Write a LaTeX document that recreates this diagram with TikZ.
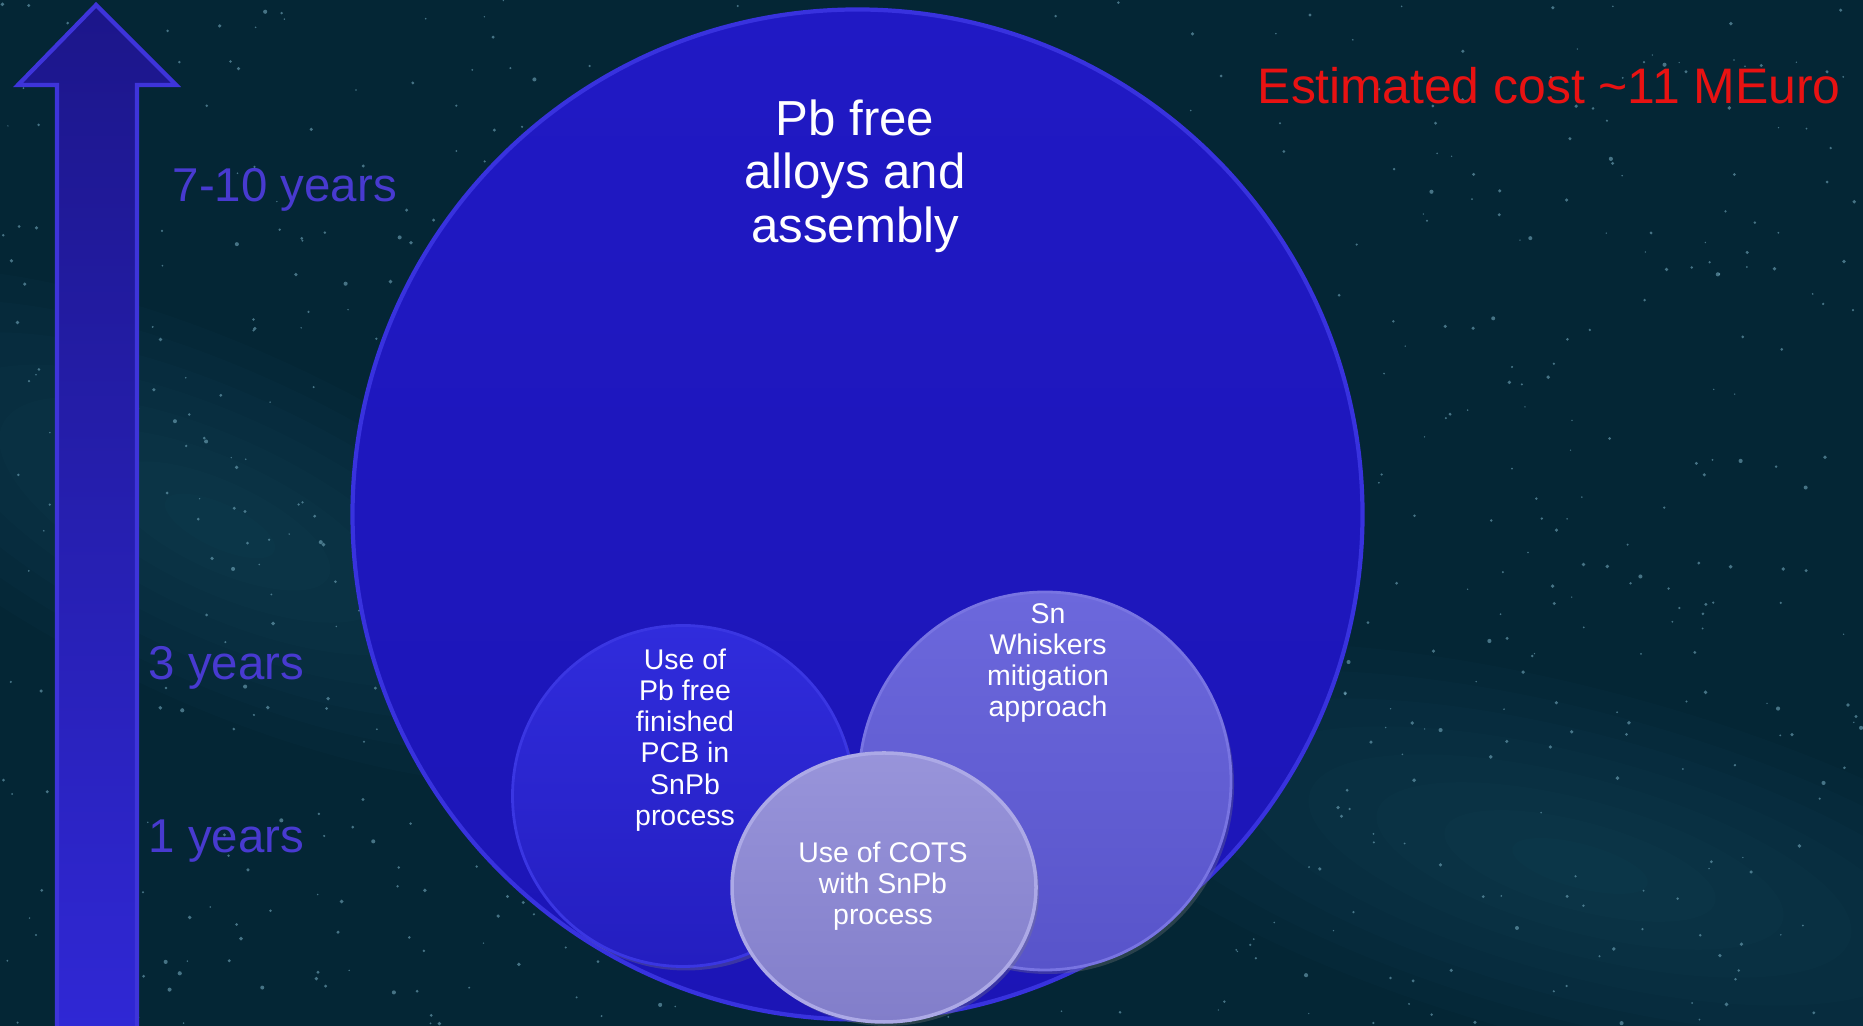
\documentclass[tikz,border=0pt]{standalone}
\usepackage{fontspec}
\setmainfont{Liberation Sans}
\usetikzlibrary{shapes,arrows,positioning,shadows}
\definecolor{skybg}{RGB}{4,38,53}
\definecolor{haze}{RGB}{30,96,118}
\definecolor{stardot}{RGB}{125,180,200}
\definecolor{yearblue}{RGB}{72,58,208}
\definecolor{costred}{RGB}{232,18,18}
\definecolor{arrowtop}{RGB}{28,22,138}
\definecolor{arrowbot}{RGB}{48,40,214}
\definecolor{arrowrim}{RGB}{62,52,218}

\begin{document}
\begin{tikzpicture}[bigstyle/.style={circle,draw={rgb,255:red,56;green,50;blue,222},line width=1.2pt,top color={rgb,255:red,32;green,25;blue,196},bottom color={rgb,255:red,28;green,21;blue,182},minimum size=10.1cm,inner sep=0},
leftstyle/.style={circle,draw={rgb,255:red,58;green,54;blue,226},line width=0.8pt,top color={rgb,255:red,48;green,44;blue,220},bottom color={rgb,255:red,36;green,30;blue,192},minimum size=3.41cm,inner sep=0,drop shadow={opacity=0.3,shadow xshift=0.03cm,shadow yshift=-0.04cm}},
rightstyle/.style={ellipse,draw={rgb,255:red,120;green,116;blue,226},line width=0.8pt,top color={rgb,255:red,108;green,104;blue,220},bottom color={rgb,255:red,88;green,84;blue,202},minimum width=3.72cm,minimum height=3.78cm,inner sep=0,drop shadow={opacity=0.3,shadow xshift=0.03cm,shadow yshift=-0.04cm}},
cotsstyle/.style={ellipse,draw={rgb,255:red,172;green,169;blue,230},line width=1pt,top color={rgb,255:red,152;green,148;blue,218},bottom color={rgb,255:red,130;green,126;blue,202},minimum width=3.04cm,minimum height=2.69cm,inner sep=0,drop shadow={opacity=0.3,shadow xshift=0.03cm,shadow yshift=-0.04cm}},
notestyle/.style={align=center,text=white,inner sep=0,font=\fontsize{8.1}{8.9}\selectfont},
yearstyle/.style={anchor=west,text=yearblue,inner sep=0,font=\fontsize{13.5}{16}\selectfont}]
\useasboundingbox (0,0) rectangle (18.63,10.26);
\fill[skybg] (0,0) rectangle (18.63,10.26);
% soft milky way
\foreach \k in {1,...,8}{
  \fill[haze,opacity=0.05] (2.2,5.0) ellipse [x radius=0.6*\k,y radius=0.22*\k,rotate=-25];
  \fill[haze,opacity=0.05] (15.8,1.6) ellipse [x radius=0.7*\k,y radius=0.22*\k,rotate=-15];
}
\pgfmathsetseed{11}
\foreach \s in {1,...,900}
  \fill[stardot,opacity=0.55] ({rnd*18.63},{rnd*10.26}) circle ({0.007+rnd*0.014});
% time arrow
\filldraw[draw=arrowrim,line width=1.2pt,top color=arrowtop,bottom color=arrowbot]
  (0.57,-0.2)--(0.57,9.41)--(0.18,9.41)--(0.96,10.21)--(1.76,9.41)--(1.37,9.41)--(1.37,-0.2)--cycle;
\node [yearstyle] (y10) at (1.72,8.36) {7-10 years};
\node [yearstyle] (y3) at (1.48,3.58) {3 years};
\node [yearstyle] (y1) at (1.48,1.85) {1 years};
% circles
\node [bigstyle] (pbfree) at (8.575,5.115) {};
\node [leftstyle] (pcb) at (6.83,2.30) {};
\node [rightstyle] (whisk) at (10.45,2.45) {};
\node [cotsstyle] (cots) at (8.84,1.385) {};
\node [align=center,text=white,inner sep=0,font=\fontsize{14}{15.2}\selectfont] (pbtext) at (8.55,8.50) {Pb free\\alloys and\\assembly};
\node [notestyle] (pcbtext) at (6.85,2.86) {Use of\\Pb free\\finished\\PCB in\\SnPb\\process};
\node [notestyle] (whisktext) at (10.48,3.63) {Sn\\Whiskers\\mitigation\\approach};
\node [notestyle] (cotstext) at (8.83,1.40) {Use of COTS\\with SnPb\\process};
\node [anchor=west,text=costred,inner sep=0,font=\fontsize{14.2}{17}\selectfont] (cost) at (12.57,9.40) {Estimated cost \textasciitilde11 MEuro};
\end{tikzpicture}
\end{document}
